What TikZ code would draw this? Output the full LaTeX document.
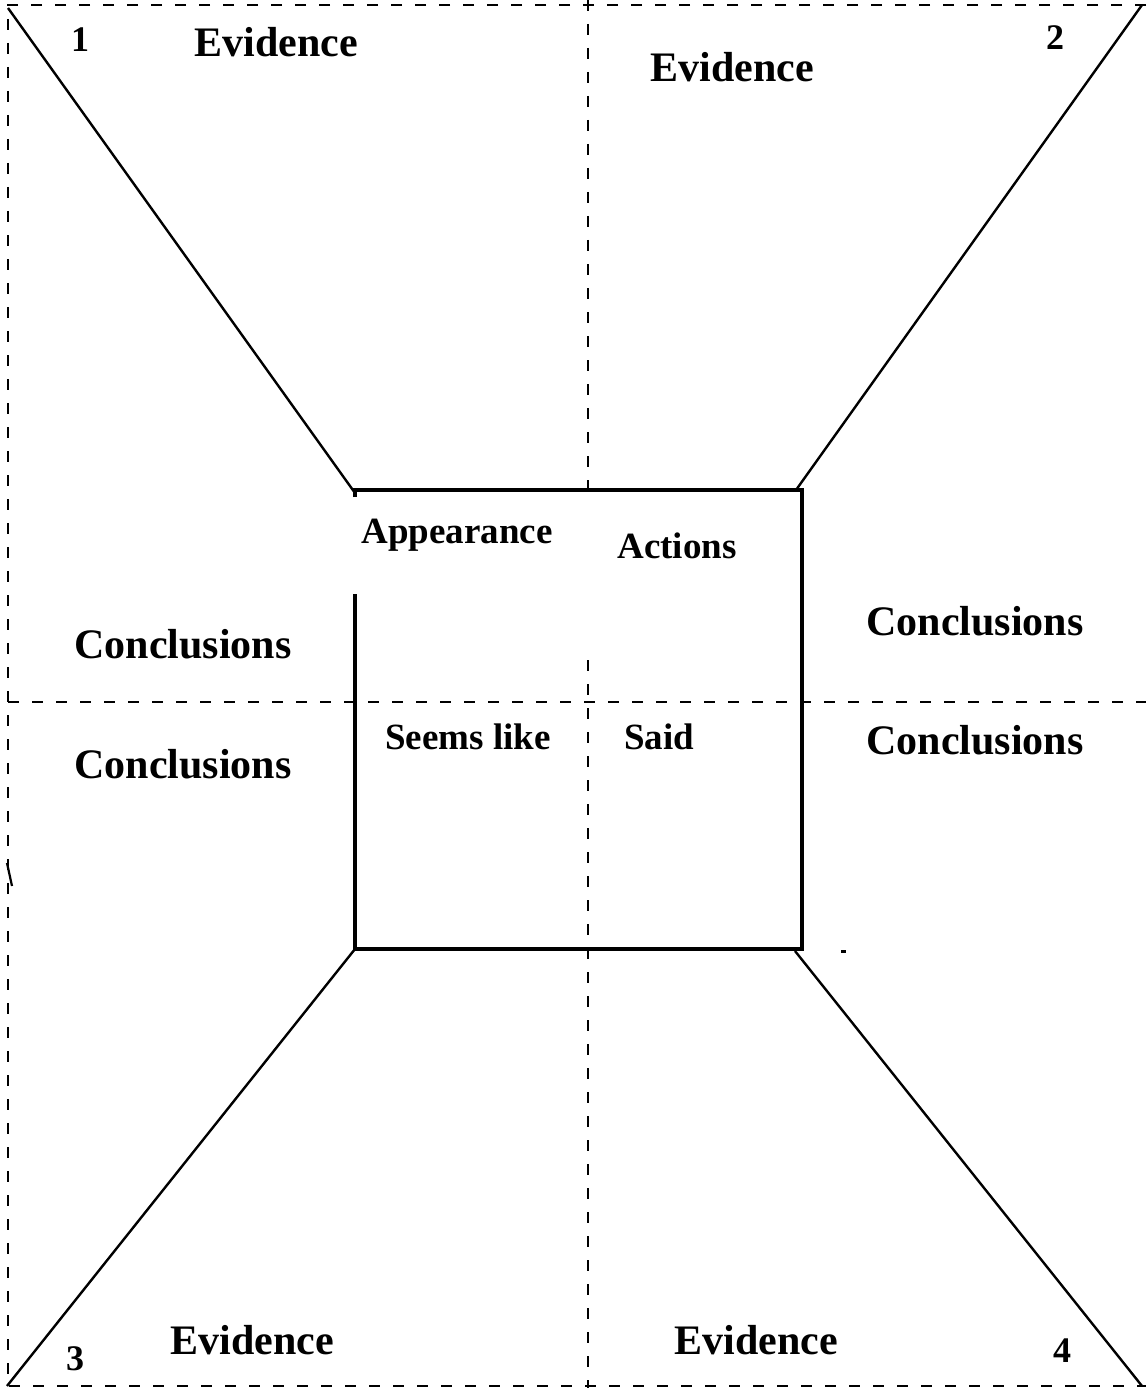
\documentclass[tikz,border=0pt]{standalone}
\usepackage{fontspec}
\setmainfont{Liberation Serif}
\begin{document}
\begin{tikzpicture}[x=1pt,y=-1pt,
  guide/.style={line width=1.8pt,dash pattern=on 11pt off 13pt},
  diag/.style={line width=2.4pt},
  boxline/.style={line width=3.5pt},
  bigtxt/.style={inner sep=0pt,anchor=base,font=\bfseries\fontsize{42}{42}\selectfont},
  midtxt/.style={inner sep=0pt,anchor=base,font=\bfseries\fontsize{37}{37}\selectfont},
  numtxt/.style={inner sep=0pt,anchor=base,font=\bfseries\fontsize{36}{36}\selectfont}]
\useasboundingbox (0,0) rectangle (1146,1388);
% corners of the central box
\coordinate (TL) at (355,490);
\coordinate (TR) at (802,490);
\coordinate (BL) at (355,949);
\coordinate (BR) at (802,949);
% outer dashed frame
\draw[guide] (1146,5) -- (8,5) -- (8,1386) -- (1146,1386);
% dashed cross
\draw[guide] (588,0) -- (588,490);
\draw[guide] (588,660) -- (588,1388);
\draw[guide] (8,702) -- (1146,702);
% diagonals
\draw[diag] (8,8) -- (355,493);
\draw[diag] (1142,5) -- (796,490);
\draw[diag] (355,949) -- (7,1386);
\draw[diag] (795,951) -- (1142,1386);
% central box
\draw[boxline] (355,497) -- (TL) -- (TR) -- (BR) -- (BL) -- (355,594);
% stray marks
\draw[line width=2.2pt] (7,863) -- (12,886);
\draw[line width=3pt] (841,951.5) -- (846,951.5);
% texts
\node[numtxt] (n1) at (80,52) {1};
\node[numtxt] (n2) at (1055,50) {2};
\node[numtxt] (n3) at (75,1370) {3};
\node[numtxt] (n4) at (1062,1362) {4};
\node[bigtxt] (ev1) at (276,57) {Evidence};
\node[bigtxt] (ev2) at (732,82) {Evidence};
\node[bigtxt] (ev3) at (252,1354) {Evidence};
\node[bigtxt] (ev4) at (756,1354) {Evidence};
\node[bigtxt] (c1) at (183,658) {Conclusions};
\node[bigtxt] (c2) at (183,778) {Conclusions};
\node[bigtxt] (c3) at (975,635) {Conclusions};
\node[bigtxt] (c4) at (975,754) {Conclusions};
\node[midtxt] (app) at (457,543) {Appearance};
\node[midtxt] (act) at (677,558) {Actions};
\node[midtxt] (seem) at (468,749) {Seems like};
\node[midtxt] (said) at (659,749) {Said};
\end{tikzpicture}
\end{document}
